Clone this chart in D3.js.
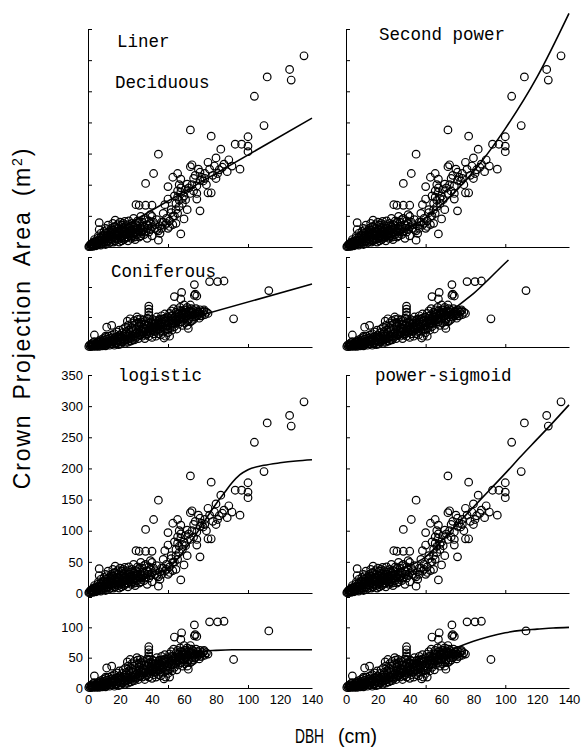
<!DOCTYPE html>
<html>
<head>
<meta charset="utf-8">
<script src="https://d3js.org/d3.v7.min.js"></script>
<style>
  body { margin: 0; background: #fff; }
  .tick text { font-family: "Liberation Sans", Arial, sans-serif; font-size: 13px; fill: #000; }
  .title { font-family: "Liberation Mono", monospace; font-size: 17.5px; }
</style>
</head>
<body>
<script>
// deciduous trees: [DBH (cm), crown projection area (m2)]
var deciduous = [
  [0.5,0.5],[1,2],[1.5,4],[2,1],[2.5,6],[3,3],[3.5,8],[4,2],[4,12],[4.5,5],[5,9],[5.5,3],[6,14],[6,7],
  [6.5,18],[7,4],[7,28],[7,39],[7.5,10],[8,22],[8,15],[8.5,6],[9,12],[9.5,19],[10,8],[10,25],[10.5,14],
  [11,30],[11,4],[11.5,17],[12,10],[12,22],[12.5,35],[13,13],[13.5,26],[14,8],[14,18],[14.5,30],[15,12],
  [15,22],[15.5,38],[16,16],[16,27],[17,33],[17,43],[17,10],[17.5,20],[18,25],[18,14],[18.5,36],[19,18],
  [19,30],[19.5,8],[20,22],[20,40],[20.5,14],[21,28],[21,35],[21.5,18],[22,24],[22,32],[22.5,12],[23,41],
  [23,30],[23,20],[23.5,26],[24,16],[24,36],[24.5,22],[25,30],[25,10],[25.5,42],[26,18],[26,26],[26.5,34],
  [27,14],[27,22],[27.5,38],[28,28],[28,18],[28.5,46],[29,24],[29,32],[29.5,12],[30,36],[30,20],[30,68],
  [31,28],[31,42],[32,67],[32,16],[32.5,34],[33,49],[33,24],[34,33],[34,40],[35,20],[35,28],[36,46],
  [36,67],[36,102],[37,36],[37,14],[38,24],[38,42],[39,28],[39,52],[40,49],[40,67],[40,32],[40,18],
  [41,118],[43,28],[44,149],[44,11],[45,22],[47,54],[48,68],[49,46],[50,77],[50,97],[51,33],[53,49],
  [53,112],[54,82],[56,54],[56,118],[57,100],[58,21],[58,88],[58,109],[61,92],[62,101],[64,86],[64,129],
  [64,188],[65,132],[68,77],[68,86],[68,98],[70,107],[70,120],[70,58],[72,106],[75,87],[75,136],[77,87],
  [77,178],[78,115],[80,110],[80,143],[82,124],[83,157],[84,128],[87,121],[92,165],[95,125],[96,165],
  [100,153],[100,162],[100,177],[104,242],[110,195],[112,273],[126,285],[127,268],[135,307],
  [46,40],[52,60],[55,38],[60,45],[62,60],[48,35],[42,30],[44,26],[50,30],[59,78],[66,90],[74,100],[73,110],
  [1,1],[2,3],[3,5],[3,1],[4,7],[5,2],[5,4],[6,10],[7,6],[8,9],[8,3],[9,16],[9,5],[10,12],[10,18],[11,8],
  [11,22],[12,15],[12,28],[13,20],[13,6],[14,24],[14,13],[15,16],[15,28],[16,20],[16,32],[16,8],[17,24],
  [17,14],[18,19],[18,30],[19,24],[19,12],[20,28],[20,16],[21,22],[21,10],[22,18],[22,38],[23,25],[23,14],
  [24,28],[24,20],[25,16],[25,34],[26,22],[26,30],[27,26],[27,18],[28,22],[28,34],[29,16],[29,28],[30,24],
  [30,30],[31,20],[31,34],[32,26],[32,40],[33,30],[33,18],[34,26],[35,32],[35,44],[36,24],[37,30],[38,34],
  [39,38],[41,40],[42,36],[43,44],[45,34],[46,30],[47,40],[49,38],[51,42],[53,36],
  [55,60],[55,70],[56,80],[57,65],[57,75],[58,95],[56,90],[54,50],[52,55],[59,70],[60,82],[61,76],[63,95],
  [65,100],[66,110],[67,115],[69,125],[71,112],[73,118],[76,125],[79,130],[81,118],[85,133],[88,140],[90,130]
];

// coniferous trees: [DBH (cm), crown projection area (m2)]
var coniferous = [
  [0.5,1],[1,3],[1.5,0.5],[2,2],[2.5,5],[3,1],[3,7],[3.5,3],[4,2],[4,9],[4.5,4],[5,1],[5,6],[5.5,3],[4,20],
  [6,2],[6,8],[6.5,4],[7,10],[7,1],[7.5,5],[8,3],[8,12],[8.5,7],[9,2],[9,9],[9.5,14],[10,4],[10,11],
  [10.5,6],[11,2],[11,16],[11.5,9],[12,4],[12,13],[12.5,7],[13,18],[11.7,33],[13.5,3],[14,10],[14.5,15],
  [15,5],[14.8,36],[15,20],[11,18],[15.5,8],[16,12],[16.5,3],[16.5,22],[17,16],[17.5,6],[18,10],[18,25],
  [18.5,18],[19,4],[19,13],[19.5,28],[20,8],[20,20],[20.5,5],[21,14],[21.5,24],[22,9],[22,30],[22.5,17],
  [23,6],[23,21],[23.5,33],[24,12],[24,26],[24.6,43],[25,8],[25,18],[25,36],[25.5,28],[26,14],[26.3,47],
  [26.5,22],[27,10],[27,32],[27.5,40],[28,18],[28,26],[28.5,36],[29,12],[29,44],[29.5,22],[30,30],
  [30.6,50],[30,16],[30.5,40],[31,24],[31,46],[31.5,14],[32,34],[32.7,47],[32.5,20],[33,28],[33,42],
  [33.5,38],[34,18],[34,32],[34.5,45],[35,24],[35,38],[35.5,14],[36,30],[36,44],[36.5,20],[37,36],
  [37,48],[37.5,26],[38,68],[38,63],[38,58],[38,53],[38,47],[38,40],[38,18],[38.5,32],[39,24],[39.5,42],
  [40,28],[40,36],[40,16],[40.5,46],[41,22],[41,32],[41.5,38],[42,26],[42,44],[42.5,18],[43,34],[43,50],
  [43.5,28],[44,40],[44,22],[44.5,46],[45,30],[45,36],[45.5,20],[46,42],[46,52],[46.5,34],[47,26],
  [47,46],[47.5,15],[48,38],[48,55],[48.5,18],[48.5,30],[49,44],[49.5,36],[50,24],[50,50],[50.5,40],
  [51,18],[51,56],[51.5,32],[52,46],[52,60],[52.5,28],[53,38],[53,52],[53.5,64],[54,34],[54,84],
  [54.5,44],[55,58],[55,40],[55.5,30],[56,50],[56,62],[56.5,38],[57,56],[57,46],[57.5,66],[58,42],
  [58.5,91],[58,80],[58.5,54],[59,36],[59,60],[59.5,48],[60,70],[60,54],[60.5,40],[61,62],[61,50],
  [61.5,58],[62,36],[62,66],[62.5,46],[63,60],[62.7,31],[63.5,54],[64,70],[64,42],[64.5,64],[65,50],
  [65,58],[65.5,62],[66.5,104],[66,46],[66.5,86],[67,88],[67,56],[67.5,64],[68,85],[68,52],[68.5,60],
  [69,58],[69.5,48],[70,56],[70,62],[71,52],[71.5,58],[72.5,60],[72.5,62],[73,54],[74,58],[75,56],
  [76,109],[81,109],[85,110],[113,94],[91,47],
  [2,4],[3,2],[5,3],[6,5],[7,3],[8,6],[9,4],[10,7],[11,5],[12,9],[13,8],[14,6],[15,11],[16,9],[17,12],
  [18,7],[19,16],[20,12],[21,9],[22,14],[23,11],[24,18],[25,13],[26,10],[27,16],[28,12],[29,18],[30,22],
  [31,18],[32,24],[33,20],[34,26],[35,30],[36,26],[37,22],[38,28],[39,34],[40,30],[41,26],[42,34],[43,30],
  [44,36],[45,26],[46,38],[47,32],[48,44],[49,28],[50,36],[51,44],[52,38],[53,44],[54,50],[55,46],[56,44],
  [57,52],[58,48],[59,56],[60,46],[61,56],[62,52],[63,46],[64,56],[65,44],[66,54],[67,50],[68,56],[69,54],
  [70,52],[32,40],[36,38],[40,40],[44,44],[48,48],[52,52],[56,56],[60,62],[64,60],[28,30],[24,22],[20,16],
  [16,14],[34,22],[42,40],[46,46],[50,30],[54,40],[58,60],[62,42]
];

// fitted curves: [DBH, area]
var decLinear   = [[0,0],[140,207]];
var decSecond   = [[0,0],[20,8],[40,30],[60,68],[80,121],[100,190],[120,273],[140,375]];
var decLogistic = [[0,2],[10,6],[20,12],[30,19],[40,28],[50,40],[55,52],[60,68],[65,85],[70,104],[75,124],
                   [80,143],[85,160],[90,177],[95,190],[100,198],[110,205],[120,209],[130,212],[140,214]];
var decPowSig   = [[0,2],[10,15],[20,27],[30,35],[40,44],[50,58],[60,84],[70,111],[80,138],[90,165],
                   [100,192],[110,220],[120,247],[130,274],[140,302]];
var conLinear   = [[0,0],[140,105]];
var conSecond   = [[0,0],[20,5.6],[40,22],[60,50],[80,89],[100,140],[102,145]];
var conLogistic = [[0,3],[10,6],[20,12],[30,20],[40,30],[50,42],[60,53],[70,60],[80,62],[90,63],[100,63],[120,63],[140,63]];
var conPowSig   = [[0,2],[10,6],[20,13],[30,21],[40,31],[50,42],[60,55],[70,67],[80,77],[90,85],[100,91],
                   [110,95],[120,97],[130,99],[140,100]];

var xTickLabels = [0, 20, 40, 60, 80, 100, 120, 140];
var decTicks = [0, 50, 100, 150, 200, 250, 300, 350];
var conTicks = [0, 50, 100, 150];

var width = 581, height = 753;

var svg = d3.select("body").append("svg")
  .attr("width", width)
  .attr("height", height);

var cols = [{ x0: 88, x1: 312 }, { x0: 346, x1: 569 }];
var rows = [
  { y0: 247, y1: 29, max: 350, data: deciduous, ticks: decTicks },
  { y0: 347, y1: 257, max: 150, data: coniferous, ticks: conTicks },
  { y0: 593, y1: 375, max: 350, data: deciduous, ticks: decTicks },
  { y0: 688, y1: 597, max: 150, data: coniferous, ticks: conTicks }
];
var fits = [
  [decLinear, decSecond],
  [conLinear, conSecond],
  [decLogistic, decPowSig],
  [conLogistic, conPowSig]
];

rows.forEach(function (row, ri) {
  cols.forEach(function (col, ci) {
    var x = d3.scaleLinear().domain([0, 140]).range([col.x0, col.x1]);
    var y = d3.scaleLinear().domain([0, row.max]).range([row.y0, row.y1]);
    var g = svg.append("g");

    // y axis, ticks pointing inward
    var yAxis = d3.axisLeft(y).tickValues(row.ticks)
      .tickSizeInner(-4).tickSizeOuter(0).tickPadding(5)
      .tickFormat(function (d) {
        if (ci != 0 || ri < 2) return "";
        if (ri == 3 && d > 100) return "";
        return d;
      });
    g.append("g")
      .attr("transform", "translate(" + col.x0 + ",0)")
      .call(yAxis)
      .call(function (s) { s.selectAll("path, line").attr("stroke", "#000"); });

    // x axis with small ticks at 50 and 100
    g.append("g")
      .attr("transform", "translate(0," + row.y0 + ")")
      .call(d3.axisBottom(x).tickValues([50, 100]).tickSizeInner(-3).tickSizeOuter(0).tickFormat(""))
      .call(function (s) { s.selectAll("path, line").attr("stroke", "#000"); });

    if (ri == 3) {
      g.append("g")
        .attr("transform", "translate(0," + row.y0 + ")")
        .call(d3.axisBottom(x).tickValues(xTickLabels).tickSize(0).tickPadding(7))
        .call(function (s) { s.select(".domain").remove(); });
    }

    // points
    g.append("g").selectAll("circle")
      .data(row.data)
      .enter().append("circle")
      .attr("cx", function (d) { return x(d[0]); })
      .attr("cy", function (d) { return y(d[1]); })
      .attr("r", 3.8)
      .attr("fill", "none")
      .attr("stroke", "#000")
      .attr("stroke-width", 1.2);

    // fitted curve
    var line = d3.line()
      .x(function (d) { return x(d[0]); })
      .y(function (d) { return y(d[1]); })
      .curve(d3.curveMonotoneX);
    g.append("path")
      .attr("d", line(fits[ri][ci]))
      .attr("fill", "none")
      .attr("stroke", "#000")
      .attr("stroke-width", 1.6);
  });
});

// panel titles
var titles = [
  { t: "Liner", x: 117, y: 47 },
  { t: "Deciduous", x: 115, y: 88 },
  { t: "Second power", x: 379, y: 40 },
  { t: "Coniferous", x: 111, y: 277 },
  { t: "logistic", x: 118, y: 381 },
  { t: "power-sigmoid", x: 375, y: 381 }
];
svg.selectAll(".title")
  .data(titles)
  .enter().append("text")
  .attr("class", "title")
  .attr("x", function (d) { return d.x; })
  .attr("y", function (d) { return d.y; })
  .text(function (d) { return d.t; });

// axis titles
var yTitle = svg.append("text")
  .attr("transform", "translate(30,318) rotate(-90)")
  .attr("text-anchor", "middle")
  .style("font-family", "Liberation Sans, Arial, sans-serif")
  .style("font-size", "23px")
  .style("letter-spacing", "1.8px")
  .style("word-spacing", "6px");
yTitle.append("tspan").text("Crown Projection Area  (m");
yTitle.append("tspan").attr("dy", -8).style("font-size", "14px").text("2");
yTitle.append("tspan").attr("dy", 8).text(")");

svg.append("text")
  .attr("x", 295).attr("y", 743)
  .attr("textLength", 29).attr("lengthAdjust", "spacingAndGlyphs")
  .style("font-family", "Liberation Sans, Arial, sans-serif")
  .style("font-size", "21px")
  .text("DBH");
svg.append("text")
  .attr("x", 338).attr("y", 743)
  .attr("textLength", 39).attr("lengthAdjust", "spacingAndGlyphs")
  .style("font-family", "Liberation Sans, Arial, sans-serif")
  .style("font-size", "21px")
  .text("(cm)");
</script>
</body>
</html>
